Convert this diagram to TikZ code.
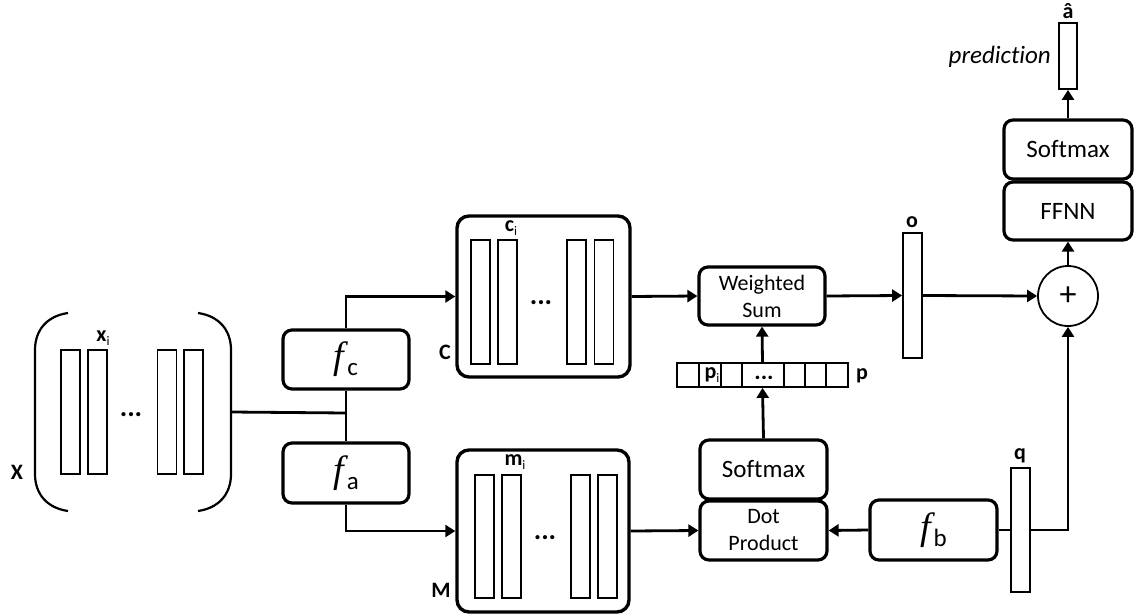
\documentclass[tikz,border=0pt]{standalone}
\usepackage{fontspec}
\setmainfont[Ligatures=NoCommon]{Carlito}
\newfontfamily\fnfont{Liberation Serif}
\usetikzlibrary{arrows.meta}
\tikzset{
  blk/.style={draw, line width=3.2pt, rounded corners=9pt, inner sep=0pt, align=center,
              font=\fontsize{25}{27}\selectfont},
  smallblk/.style={blk, font=\fontsize{22}{27}\selectfont},
  mem/.style={draw, line width=3.4pt, rounded corners=12pt, inner sep=0pt},
  vec/.style={draw, line width=1.8pt, fill=white, inner sep=0pt, minimum width=19pt},
  lbl/.style={font=\fontsize{22}{24}\selectfont\bfseries, inner sep=0pt},
  dots/.style={font=\fontsize{28}{28}\selectfont\bfseries, inner sep=0pt, anchor=base},
  conn/.style={line width=2.8pt, -{Triangle[length=10pt,width=12pt]}},
  plain/.style={line width=2.8pt},
}
\newcommand{\fn}[1]{{\fnfont\itshape\fontsize{38}{38}\selectfont f}\hspace{3pt}\raisebox{-7pt}{#1}}
\newcommand{\sub}[2]{#1\raisebox{-4pt}{\fontsize{13}{13}\mdseries\selectfont #2}}
\begin{document}
\begin{tikzpicture}[x=1pt,y=-1pt]
\useasboundingbox (0,0) rectangle (1139,615);

% ---- input X ----
\node (Xg) [inner sep=0pt, minimum width=196pt, minimum height=198pt] at (133,412) {};
\draw[line width=2.2pt] (68,313) .. controls (47,316) and (35,330) .. (35,350) -- (35,474)
      .. controls (35,494) and (47,508) .. (68,511);
\draw[line width=2.2pt] (198,313) .. controls (219,316) and (231,330) .. (231,350) -- (231,474)
      .. controls (231,494) and (219,508) .. (198,511);
\foreach \xx in {70.5,97.5,167,193.5}
  \node[vec, minimum height=124pt] at (\xx,412) {};
\node[dots] at (131,416) {...};
\node[lbl] at (103,338) {\sub{x}{i}};
\node[lbl] at (17,472) {X};

% ---- embedding functions ----
\node (fc) [blk, minimum width=126pt, minimum height=59pt] at (346,359.5) {\fn{c}};
\node (fa) [blk, minimum width=126pt, minimum height=60pt] at (346,473) {\fn{a}};
\coordinate (J) at (346,413);

% ---- memories C and M ----
\node (C) [mem, minimum width=173pt, minimum height=161pt] at (543.5,296.5) {};
\foreach \xx in {480.5,507.5,576.5,604}
  \node[vec, minimum height=124pt] at (\xx,302) {};
\node[dots] at (541,304) {...};
\node[lbl] at (511,228) {\sub{c}{i}};
\node[lbl] at (445,352) {C};

\node (M) [mem, minimum width=172pt, minimum height=162pt] at (543,531) {};
\foreach \xx in {484.5,511.5,580.5,607.5}
  \node[vec, minimum height=123pt] at (\xx,536.5) {};
\node[dots] at (545,539) {...};
\node[lbl] at (515,462) {\sub{m}{i}};
\node[lbl] at (441,590) {M};

% ---- attention ----
\node (ws) [smallblk, minimum width=126pt, minimum height=58pt] at (762,296) {Weighted\\Sum};
\node (sm1) [blk, minimum width=127pt, minimum height=59pt] at (763.5,469.5) {Softmax};
\node (dot) [smallblk, minimum width=127pt, minimum height=59pt] at (763.5,530.5) {Dot\\Product};
\node (p) [draw, line width=1.8pt, inner sep=0pt, minimum width=171pt, minimum height=24pt] at (762.5,375) {};
\foreach \d in {23,45,66,108,129,150}
  \draw[line width=1.8pt] ([xshift=\d pt]p.south west) -- ([xshift=\d pt]p.north west);
\node[lbl] at (712,375) {\sub{p}{i}};
\node[dots, font=\fontsize{24}{24}\selectfont\bfseries] at (764,379) {...};
\node[lbl] at (862,376) {p};

% ---- output side ----
\node (o) [vec, minimum height=125pt] at (912.5,295.5) {};
\node[lbl] at (912,222) {o};
\node (plus) [draw, circle, line width=1.8pt, minimum size=60pt, inner sep=0pt,
              font=\fontsize{34}{34}\selectfont] at (1068,296) {+};
\node (ffnn) [blk, minimum width=128pt, minimum height=58pt] at (1068,211) {FFNN};
\node (sm2) [blk, minimum width=128pt, minimum height=59pt] at (1068,149.5) {Softmax};
\node (ahat) [vec, minimum width=18pt, minimum height=66pt] at (1068,56) {};
\node[lbl] at (1068,11) {â};
\node[anchor=east, inner sep=0pt, font=\fontsize{25}{27}\selectfont\itshape] at (1051,57) {prediction};

% ---- question ----
\node (fb) [blk, minimum width=127pt, minimum height=60pt] at (933.5,530) {\fn{b}};
\node (q) [vec, minimum height=124pt] at (1020.5,530) {};
\node[lbl] at (1020,456) {q};

% ---- connectors ----
\draw[plain] (Xg.east) -- (J);
\draw[plain] (fc.south) -- (fa.north);
\draw[conn] (fc.north) |- (C.west);
\draw[conn] (fa.south) |- (M.west);
\draw[conn] (M.east) -- (dot.west);
\draw[conn] (C.east) -- (ws.west);
\draw[conn] (ws.east) -- (o.west);
\draw[conn] (o.east) -- (plus.west);
\draw[conn] (sm1.north) -- (p.south);
\draw[conn] (p.north) -- (ws.south);
\draw[conn] (fb.west) -- (dot.east);
\draw[plain] (fb.east) -- (q.west);
\draw[conn] (q.east) -| (plus.south);
\draw[conn] (plus.north) -- (ffnn.south);
\draw[conn] (sm2.north) -- (ahat.south);
\end{tikzpicture}
\end{document}
